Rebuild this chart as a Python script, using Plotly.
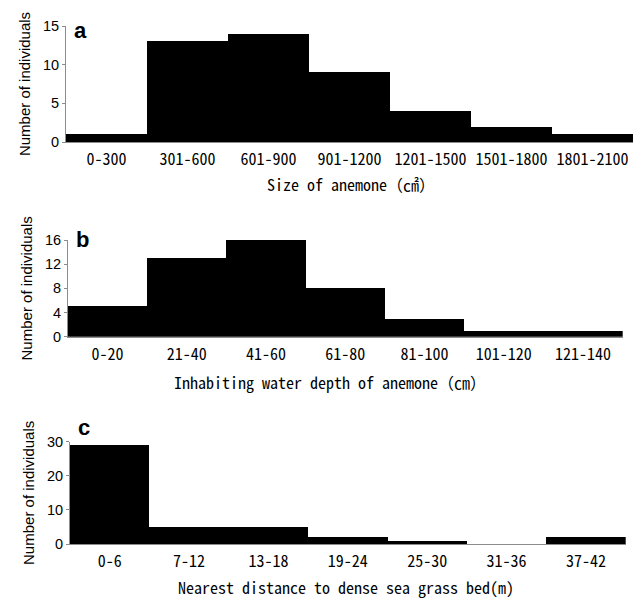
import plotly.graph_objects as go

# ---- data ----
size_cats = ["0-300", "301-600", "601-900", "901-1200", "1201-1500", "1501-1800", "1801-2100"]
size_counts = [1, 13, 14, 9, 4, 2, 1]

depth_cats = ["0-20", "21-40", "41-60", "61-80", "81-100", "101-120", "121-140"]
depth_counts = [5, 13, 16, 8, 3, 1, 1]

dist_cats = ["0-6", "7-12", "13-18", "19-24", "25-30", "31-36", "37-42"]
dist_counts = [29, 5, 5, 2, 1, 0, 2]

panel_labels = ["a", "b", "c"]
x_titles = ["Size of anemone（㎠）", "Inhabiting water depth of anemone（㎝）",
            "Nearest distance to dense sea grass bed(m)"]
y_title = "Number of individuals"

W, H = 642, 598

def px_x(p):
    return p / W

def px_y(p):
    return 1 - p / H

# panel geometry in pixels: (left, right, top, bottom)
geo = [(66, 633, 26, 142), (68, 622.7, 240, 336.7), (70, 625.7, 441.7, 544)]
yranges = [[0, 15], [0, 16], [0, 30]]
ydticks = [5, 4, 10]
xtitle_pos = [(351, 184), (330, 381.7), (346, 587)]
label_y = [31, 240, 427]

fig = go.Figure()
series = [(size_cats, size_counts), (depth_cats, depth_counts), (dist_cats, dist_counts)]
axis_gray = "#8c8c8c"
jp_font = "Noto Sans Mono CJK JP, Noto Sans CJK JP"
lat_font = "Liberation Sans, Arial"

for i, (cats, vals) in enumerate(series):
    sfx = "" if i == 0 else str(i + 1)
    fig.add_trace(go.Bar(x=cats, y=vals, marker=dict(color="black", line=dict(width=0)),
                         xaxis="x" + sfx, yaxis="y" + sfx, showlegend=False))
    l, r, t, b = geo[i]
    fig.layout["xaxis" + sfx] = dict(
        domain=[px_x(l), px_x(r)], anchor="y" + sfx, type="category",
        range=[-0.5, 6.5], showline=True, linecolor=axis_gray, linewidth=1,
        ticks="", showgrid=False, zeroline=False, automargin=False,
        tickfont=dict(family=jp_font, size=16, color="black"),
        ticklabelstandoff=3,
    )
    fig.layout["yaxis" + sfx] = dict(
        domain=[px_y(b), px_y(t)], anchor="x" + sfx, range=yranges[i],
        dtick=ydticks[i], tick0=0, showline=True, linecolor=axis_gray, linewidth=1,
        ticks="outside", ticklen=3, tickcolor=axis_gray, showgrid=False, zeroline=False,
        automargin=False,
        tickfont=dict(family=lat_font, size=14.5, color="black"),
        title=dict(text=y_title, font=dict(family=lat_font, size=15, color="black"),
                   standoff=8),
    )
    fig.add_annotation(text="<b>%s</b>" % panel_labels[i], xref="paper", yref="paper",
                       x=px_x(l + 6), y=px_y(label_y[i]),
                       xanchor="left", yanchor="middle", showarrow=False,
                       font=dict(family=lat_font, size=22, color="black"))
    xt, yt = xtitle_pos[i]
    fig.add_annotation(text=x_titles[i], xref="paper", yref="paper",
                       x=px_x(xt), y=px_y(yt), xanchor="center", yanchor="middle",
                       showarrow=False, font=dict(family=jp_font, size=16, color="black"))

fig.update_layout(
    template="none",
    width=W, height=H, margin=dict(l=0, r=0, t=0, b=0, autoexpand=False),
    paper_bgcolor="white", plot_bgcolor="white", bargap=0,
)

fig.write_html("out.html")
